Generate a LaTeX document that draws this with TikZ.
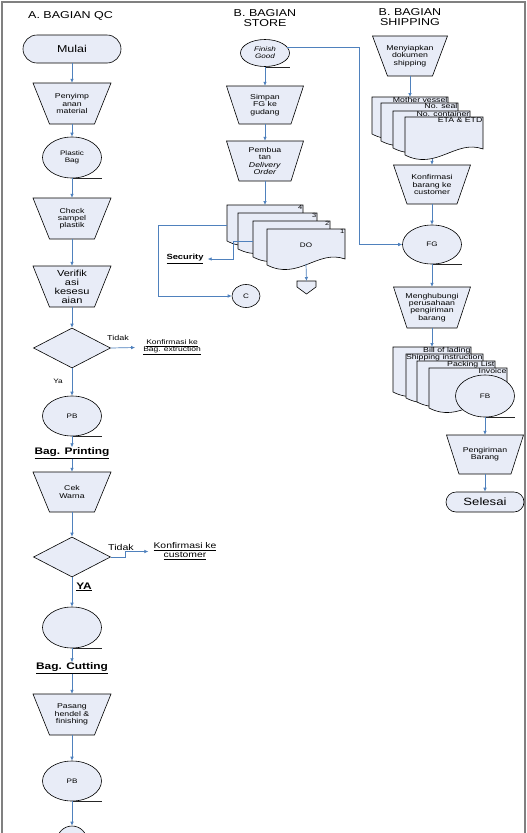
\documentclass[tikz,border=0pt]{standalone}
\usepackage{fontspec}
\setmainfont{Liberation Sans}[FakeStretch=1.25]
\usetikzlibrary{shapes.geometric,arrows.meta}
\definecolor{boxfill}{RGB}{232,236,247}
\definecolor{arrblue}{RGB}{79,129,189}
\definecolor{framegray}{RGB}{128,128,128}
\tikzset{
  shp/.style={draw=black, fill=boxfill, line width=0.6pt},
  arr/.style={draw=arrblue, line width=0.7pt, -{Latex[length=4pt,width=3.6pt]}},
  tail/.style={draw=black!85, line width=0.6pt},
  tape/.style={shp, ellipse, inner sep=0pt, align=center, font=\fontsize{6.5}{7.3}\selectfont},
  term/.style={shp, rectangle, inner sep=0pt},
  dia/.style={shp, diamond, inner sep=0pt, minimum width=77pt, minimum height=40pt},
  lbl/.style={inner sep=0pt, align=center},
  small/.style={font=\fontsize{7}{7.3}\selectfont},
  big/.style={font=\fontsize{8.8}{9}\selectfont},
  title/.style={lbl, font=\fontsize{10}{10.5}\selectfont},
  sect/.style={lbl, font=\bfseries\fontsize{9.5}{11}\selectfont},
  doclbl/.style={anchor=north east, inner sep=0.4pt, font=\fontsize{7}{7}\selectfont},
  numlbl/.style={anchor=north east, inner sep=0.6pt, font=\fontsize{6}{6}\selectfont},
  frame/.style={draw=framegray, line width=1.5pt},
}
% name, cx, top, bottom, half top width, half bottom width, style, text
\newcommand{\trapbox}[8]{%
  \pgfmathsetmacro\tbh{#4-#3}\pgfmathsetmacro\tbc{(#3+#4)/2}\pgfmathsetmacro\tbw{2*#5}%
  \draw[shp] (#2-#5,#3) -- (#2+#5,#3) -- (#2+#6,#4) -- (#2-#6,#4) -- cycle;
  \node[lbl, #7, minimum height=\tbh pt, minimum width=\tbw pt] (#1) at (#2,\tbc) {#8};}
% left, top, right, height
\newcommand{\docsh}[4]{%
  \draw[shp] (#1,#2) -- (#3,#2) -- (#3,#2+#4-6)
    .. controls ({#3-0.35*(#3-#1)},#2+#4-16) and ({#1+0.4*(#3-#1)},#2+#4+16) .. (#1,#2+#4) -- cycle;}
\begin{document}
\begin{tikzpicture}[x=1pt,y=-1pt]
\useasboundingbox (0,0) rectangle (527,833);
\clip (0,0) rectangle (527,833);
\fill[white] (0,0) rectangle (527,833);
\draw[frame] (2,840) -- (2,2) -- (525,2) -- (525,840);

% ---------------- A. BAGIAN QC ----------------
\node[title, anchor=west] (titleA) at (28,16) {A. BAGIAN QC};
\node[term, rounded corners=14pt, minimum width=98pt, minimum height=28pt,
      font=\fontsize{10}{12}\selectfont] (mulai) at (72,49) {Mulai};
\trapbox{penyimp}{72}{83}{124}{39}{22.5}{small}{Penyimp\\anan\\material}
\node[tape, minimum width=59pt, minimum height=41pt] (plastic) at (72,157.5) {Plastic\\Bag};
\draw[tail] (plastic.south) -- ++(29.5,0);
\trapbox{check}{72}{198}{239}{39}{22.5}{small}{Check\\sampel\\plastik}
\trapbox{verif}{72}{266}{307}{39}{22.5}{big}{Verifik\\asi\\kesesu\\aian}
\node[dia] (d1) at (72,348) {};
\node[lbl, font=\fontsize{7.2}{8}\selectfont] (tidak1) at (118,338) {Tidak};
\node[lbl, font=\fontsize{6.8}{7}\selectfont, inner xsep=8pt] (konf1) at (172,347.5)
     {\underline{Konfirmasi ke}\\\underline{Bag. extruction}};
\node[lbl, font=\fontsize{6.5}{7}\selectfont] (ya1) at (58,381) {Ya};
\node[tape, minimum width=59pt, minimum height=40pt] (pb1) at (72,416) {PB};
\draw[tail] (pb1.south) -- ++(29.5,0);
\node[sect] (printing) at (72,453) {\underline{Bag. Printing}};
\trapbox{cek}{72}{472}{512}{39}{22.5}{small}{Cek\\Warna}
\node[dia] (d2) at (72,557) {};
\node[lbl, font=\fontsize{8.5}{9}\selectfont] (tidak2) at (121,547) {Tidak};
\node[lbl, font=\fontsize{8.3}{9}\selectfont, inner xsep=5pt] (konf2) at (185,551.5)
     {\underline{Konfirmasi ke}\\\underline{customer}};
\node[sect] (ya2) at (84,587) {\underline{YA}};
\node[tape, minimum width=59pt, minimum height=41pt] (c3) at (72,627.5) {};
\draw[tail] (c3.south) -- ++(29.5,0);
\node[sect] (cutting) at (72,668) {\underline{Bag. Cutting}};
\trapbox{pasang}{72}{694}{735}{39}{22.5}{small}{Pasang\\hendel \&\\finishing}
\node[tape, minimum width=59pt, minimum height=40pt] (pb2) at (72,781) {PB};
\draw[tail] (pb2.south) -- ++(29.5,0);
\node[tape, minimum width=30pt, minimum height=30pt] (cbot) at (72,841) {};

\draw[arr] (mulai.south) -- (penyimp.north);
\draw[arr] (penyimp.south) -- (plastic.north);
\draw[arr] (plastic.south) -- (check.north);
\draw[arr] (check.south) -- (verif.north);
\draw[arr] (verif.south) -- (d1.north);
\draw[arr] (d1.south) -- (pb1.north);
\draw[arr] (d1.east) -- (konf1.west);
\draw[arr] (pb1.south) -- (printing.north);
\draw[arr] (printing.south) -- (cek.north);
\draw[arr] (cek.south) -- (d2.north);
\draw[arr] (d2.east) -- ++(15,0) |- (konf2.west);
\draw[arr] (d2.south) -- (c3.north);
\draw[arr] (c3.south) -- (cutting.north);
\draw[arr] (cutting.south) -- (pasang.north);
\draw[arr] (pasang.south) -- (pb2.north);
\draw[arr] (pb2.south) -- (cbot.north);

% ---------------- B. BAGIAN STORE ----------------
\node[title] (titleB) at (265,18) {B. BAGIAN\\STORE};
\node[tape, minimum width=49pt, minimum height=27pt, font=\itshape\fontsize{6.5}{7.3}\selectfont]
     (finish) at (265,53) {Finish\\Good};
\draw[tail] (finish.south) -- ++(24.5,0);
\trapbox{simpan}{265}{86}{124}{38.5}{26}{small}{Simpan\\FG ke\\gudang}
\trapbox{pembuatan}{265}{141}{181}{38.5}{26}{small}{Pembua\\tan\\\textit{Delivery}\\\textit{Order}}
\docsh{227}{205}{303}{36}
\node[numlbl] (n4) at (303,205) {4};
\docsh{238}{213}{317}{36}
\node[numlbl] (n3) at (317,213) {3};
\docsh{253}{221}{330}{36}
\node[numlbl] (n2) at (330,221) {2};
\docsh{267}{229}{345}{36}
\node[numlbl] (n1) at (345,229) {1};
\node[lbl, font=\fontsize{6.5}{7}\selectfont] (dolbl) at (306,245) {DO};
\coordinate (do4top) at (265,205);
\coordinate (do4left) at (227,225);
\coordinate (do2left) at (253,241);
\coordinate (do1bot) at (306,264);
\coordinate (offp) at (306.5,281);
\draw[shp] (297,281) -- (316,281) -- (316,287) -- (306.5,294) -- (297,287) -- cycle;
\node[lbl, font=\bfseries\fontsize{7.5}{8}\selectfont, inner xsep=4pt] (security) at (185,259) {\underline{Security}};
\node[tape, minimum width=28pt, minimum height=23pt] (cnode) at (246,296) {C};

\draw[arr] (finish.south) -- (simpan.north);
\draw[arr] (simpan.south) -- (pembuatan.north);
\draw[arr] (pembuatan.south) -- (do4top);
\draw[arr] (do2left) -- ++(-20,0) |- (security.east);
\draw[arr] (do4left) -- ++(-69,0) |- (cnode.west);
\draw[arr] (do1bot) -- (offp);

% ---------------- B. BAGIAN SHIPPING ----------------
\node[title] (titleC) at (410,17) {B. BAGIAN\\SHIPPING};
\trapbox{meny}{410}{36}{76}{37.5}{22.5}{small}{Menyiapkan\\dokumen\\shipping}
\docsh{372}{97}{448}{37}
\node[doclbl] (mv) at (448,97) {Mother vessel};
\docsh{381}{103}{458}{38}
\node[doclbl] (ns) at (458,103) {No. seal};
\docsh{393}{111}{470}{37}
\node[doclbl] (nc) at (470,111) {No. container};
\docsh{405}{117}{483}{38}
\node[doclbl] (eta) at (483,117) {ETA \& ETD};
\coordinate (shipAtop) at (410,97);
\coordinate (shipDbot) at (432,158.5);
\trapbox{konfb}{432}{165}{204}{38.5}{25}{small}{Konfirmasi\\barang ke\\customer}
\node[tape, minimum width=59pt, minimum height=39pt] (fg) at (432,244.5) {FG};
\draw[tail] (fg.south) -- ++(29.5,0);
\trapbox{mengh}{432}{287}{328}{38.5}{25}{small}{Menghubungi\\perusahaan\\pengiriman\\barang}
\docsh{393}{347}{471}{45}
\node[doclbl] (bl) at (471,347) {Bill of lading};
\docsh{406}{354}{483}{44}
\node[doclbl] (si) at (483,354) {Shipping instruction};
\docsh{417}{361}{495}{41}
\node[doclbl] (pl) at (495,361) {Packing List};
\docsh{429}{368}{507}{40}
\node[doclbl] (inv) at (507,368) {Invoice};
\coordinate (billtop) at (432,347);
\node[tape, minimum width=59pt, minimum height=42pt] (fb) at (485,396) {FB};
\draw[tail] (fb.south) -- ++(29.5,0);
\trapbox{kirim}{485}{435}{474}{38.5}{26}{small}{Pengiriman\\Barang}
\node[term, rounded corners=10pt, minimum width=78pt, minimum height=20pt,
      font=\fontsize{10.5}{12}\selectfont] (selesai) at (485,502) {Selesai};

\draw[arr] (meny.south) -- (shipAtop);
\draw[arr] (shipDbot) -- (konfb.north);
\draw[arr] (konfb.south) -- (fg.north);
\draw[arr] (fg.south) -- (mengh.north);
\draw[arr] (mengh.south) -- (billtop);
\draw[arr] (fb.south) -- (kirim.north);
\draw[arr] (kirim.south) -- (selesai.north);
\draw[arr] (finish.15) -- ++(72,0) |- (fg.west);
\end{tikzpicture}
\end{document}
